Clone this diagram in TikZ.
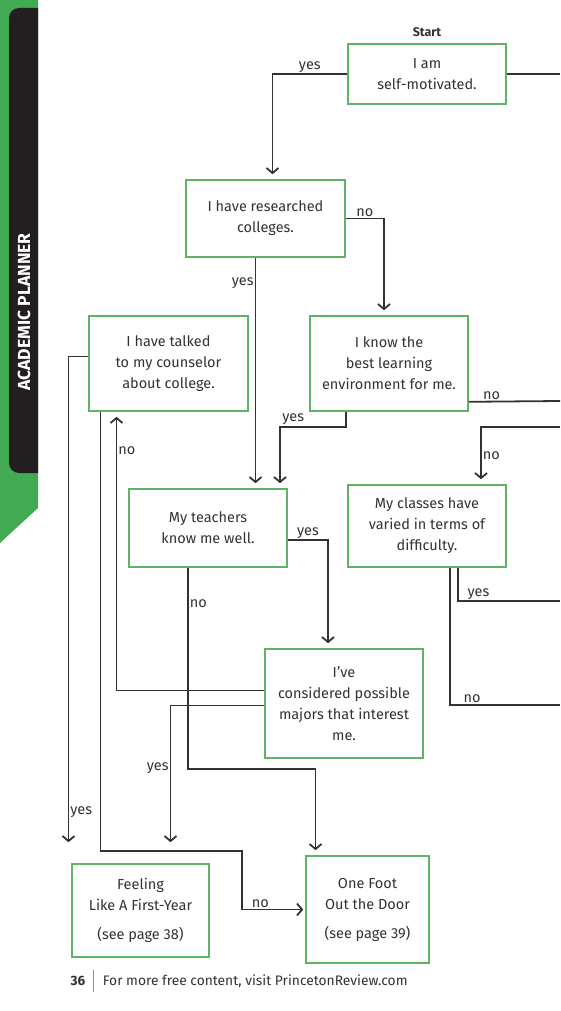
\documentclass[tikz,border=0pt]{standalone}
\usepackage{fontspec}
\setmainfont{Fira Sans}
\usetikzlibrary{positioning,arrows.meta,calc}
\definecolor{ink}{RGB}{50,50,50}
\definecolor{boxgreen}{RGB}{96,178,100}
\definecolor{sidegreen}{RGB}{66,170,82}
\definecolor{band}{RGB}{35,31,32}
\tikzset{
  wire/.style={draw=ink, line width=1.8pt},
  pin/.style={wire, -{Straight Barb[length=5pt,width=12pt]}, shorten >=5pt},
  qbox/.style={draw=boxgreen, line width=1.6pt, align=center, text=ink, font=\fontsize{14.5}{21}\selectfont, inner sep=2pt},
  lbl/.style={text=ink, font=\fontsize{14.5}{16}\selectfont, inner sep=1pt},
}

\begin{document}
\begin{tikzpicture}[x=1pt,y=-1pt]
  \useasboundingbox (0,0) rectangle (560,1011);
  % side tab
  \fill[sidegreen] (0,0) -- (38,0) -- (38,508) -- (0,543) -- cycle;
  \fill[band, rounded corners=10pt] (38,8) -- (9,8) -- (9,473) -- (38,473);
  \node[rotate=90, text=white, font=\bfseries\fontsize{17.5}{19}\selectfont] (tab) at (24,312) {ACADEMIC PLANNER};

  % question boxes
  \node[qbox, minimum width=158pt, minimum height=60pt] (motiv) at (427,74) {I am\\self-motivated.};
  \node[font=\bfseries\fontsize{12.5}{14}\selectfont, text=ink, above=3pt of motiv] (start) {Start};
  \node[qbox, minimum width=159pt, minimum height=77pt] (research) at (265.5,218.5) {I have researched\\colleges.};
  \node[qbox, minimum width=159pt, minimum height=95pt] (counsel) at (168.5,363.5) {I have talked\\to my counselor\\about college.};
  \node[qbox, minimum width=158pt, minimum height=95pt] (learn) at (389,363.5) {I know the\\best learning\\environment for me.};
  \node[qbox, minimum width=158pt, minimum height=78pt] (teach) at (208,528) {My teachers\\know me well.};
  \node[qbox, minimum width=158pt, minimum height=82pt] (vary) at (427,526) {My classes have\\varied in terms of\\difficulty.};
  \node[qbox, minimum width=158pt, minimum height=109pt] (major) at (344,703.5) {I’ve\\considered possible\\majors that interest\\me.};
  % outcomes
  \node[qbox, minimum width=137pt, minimum height=93pt] (first) at (140.5,910.5) {Feeling\\Like A First-Year\\[8pt](see page 38)};
  \node[qbox, minimum width=123pt, minimum height=107pt] (door) at (367.5,909.5) {One Foot\\Out the Door\\[8pt](see page 39)};

  % ends running off the page
  \coordinate (offA) at (560,74);
  \coordinate (offB) at (560,401);
  \coordinate (offC) at (560,427);
  \coordinate (offD) at (560,601);
  \coordinate (offE) at (560,705);

  % motiv
  \draw[wire] (motiv.east) -- (offA);
  \draw[pin] (motiv.west) -| node[lbl, pos=0.25, above]{yes} ($(research.north)+(7,0)$);
  % research
  \draw[pin] (research.east) -| node[lbl, pos=0.25, above]{no} ($(learn.north)+(-5,0)$);
  \draw[pin] ($(research.south)+(-10,0)$) coordinate (ry) -- node[lbl, pos=0.11, left]{yes} (ry |- teach.north);
  % learn
  \draw[wire] ($(learn.south east)+(0,-10)$) -- node[lbl, pos=0.25, above]{no} (offB);
  \draw[pin] ($(learn.south)+(-43,0)$) -- ++(0,15) -| node[lbl, pos=0.4, above]{yes} ($(teach.north)+(72,0)$);
  \draw[pin] (offC) -| node[lbl, pos=0.75, right]{no} ($(vary.north)+(54,0)$);
  % teach
  \draw[pin] ($(teach.east)+(0,12)$) -| node[lbl, pos=0.25, above]{yes} ($(major.north)+(-16,0)$);
  \draw[pin] ($(teach.south)+(-20,0)$) -- node[lbl, pos=0.18, right]{no} ++(0,201) -| ($(door.north)+(-52,0)$);
  % vary
  \draw[wire] ($(vary.south)+(31,0)$) |- node[lbl, pos=0.6, above]{yes} (offD);
  \draw[wire] ($(vary.south)+(23,0)$) |- node[lbl, pos=0.6, above]{no} (offE);
  % major
  \draw[pin] ($(major.west)+(0,-13)$) -| node[lbl, pos=0.93, right]{no} ($(counsel.south)+(-52,0)$);
  \draw[pin, shorten >=21pt] ($(major.west)+(0,2)$) -| node[lbl, pos=0.70, left]{yes} ($(first.north)+(30,0)$);
  % counsel
  \draw[pin, shorten >=21pt] ($(counsel.west)+(0,-7)$) -| node[lbl, pos=0.95, right]{yes} ($(first.north)+(-72,0)$);
  \draw[pin, shorten >=2pt] ($(counsel.south)+(-68,0)$) -- ++(0,439) -| ($(door.west)+(-63,0)$) -- node[lbl, pos=0.29, above]{no} (door.west);

  % footer
  \node[font=\bfseries\fontsize{13.5}{15}\selectfont, text=ink, anchor=west] (pgnum) at (67,981) {36};
  \draw[boxgreen, line width=0.8pt] ($(pgnum.east)+(5,-11)$) -- ++(0,22);
  \node[lbl, font=\fontsize{13.8}{15}\selectfont, anchor=west] (foot) at ($(pgnum.east)+(13,0)$) {For more free content, visit PrincetonReview.com};
\end{tikzpicture}
\end{document}
